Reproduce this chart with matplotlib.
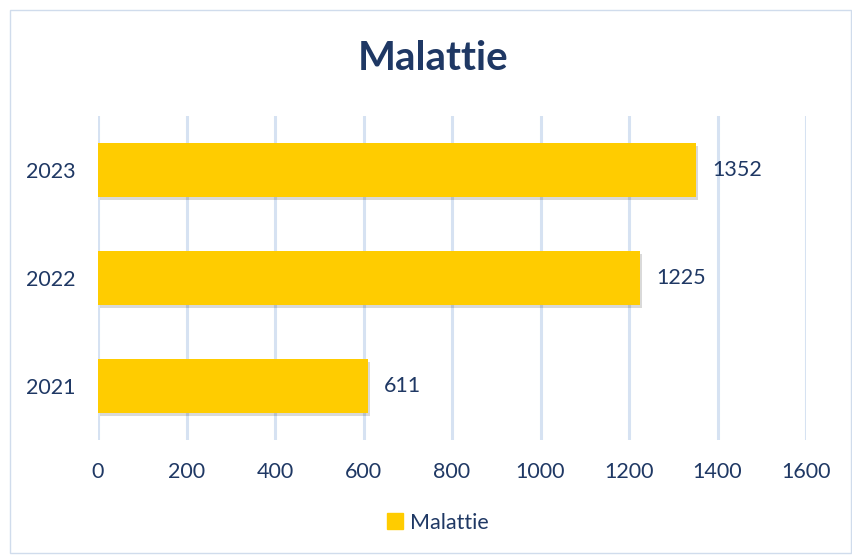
import matplotlib.pyplot as plt
import matplotlib.patheffects as pe
from matplotlib.patches import Rectangle

# data
anni = ["2021", "2022", "2023"]
valori = [611, 1225, 1352]
xticks = [0, 200, 400, 600, 800, 1000, 1200, 1400, 1600]

gold = "#FFCC00"
blu = "#1F3864"
grid_col = "#D6E2F2"

plt.rcParams['font.family'] = ['Lato', 'DejaVu Sans']

fig = plt.figure(figsize=(8.53, 5.55), dpi=100)
ax = fig.add_axes([0.1149, 0.2072, 0.83, 0.584])

ypos = range(len(anni))
bars = ax.barh(ypos, valori, height=0.5, color=gold, zorder=3)
for b in bars:
    b.set_path_effects([pe.SimplePatchShadow(offset=(1.5, -2), shadow_rgbFace="#000000", alpha=0.15),
                        pe.Normal()])

for y, v in zip(ypos, valori):
    ax.annotate(str(v), (v, y), xytext=(11.5, 0), textcoords="offset points",
                va="center", ha="left", fontsize=15.5, color=blu)

ax.set_xlim(0, 1600)
ax.set_ylim(-0.5, 2.5)
ax.set_xticks(xticks)
ax.set_yticks(list(ypos))
ax.set_yticklabels(anni)
ax.tick_params(axis="both", length=0, labelsize=15.5, labelcolor=blu)
ax.tick_params(axis="x", pad=16)
ax.tick_params(axis="y", pad=16)
ax.grid(axis="x", color=grid_col, linewidth=2.2, zorder=0)
for s in ax.spines.values():
    s.set_visible(False)

fig.text(0.508, 0.895, "Malattie", ha="center", va="center", fontsize=29,
         fontweight="bold", color=blu)

handle = Rectangle((0, 0), 1, 1, color=gold)
fig.legend([handle], ["Malattie"], loc="center", bbox_to_anchor=(0.513, 0.058), frameon=False,
           fontsize=15.5, labelcolor=blu, handlelength=0.75, handleheight=0.75, handletextpad=0.3)

fig.patches.append(Rectangle((0.012, 0.004), 0.986, 0.978, transform=fig.transFigure,
                             fill=False, edgecolor="#D0DCEC", linewidth=1))

fig.savefig("out.png", dpi=100)
